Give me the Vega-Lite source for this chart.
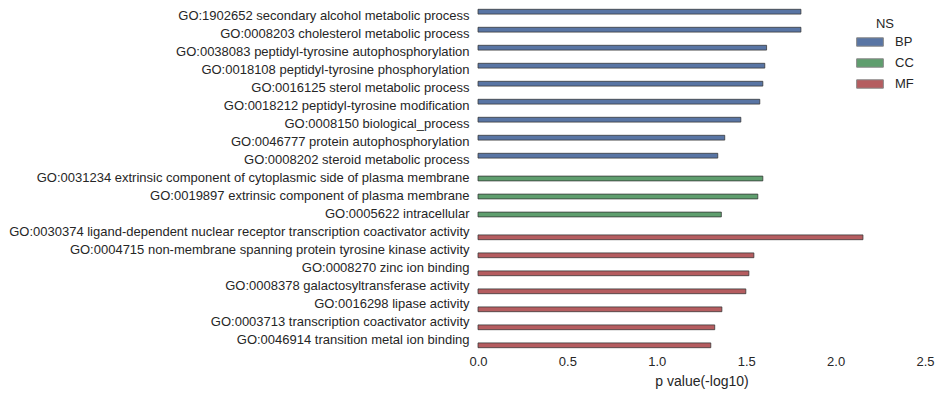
{
  "$schema": "https://vega.github.io/schema/vega-lite/v6.json",
  "autosize": "none",
  "width": 447,
  "height": 342,
  "padding": {"left": 478, "top": 7.5, "right": 15, "bottom": 47.5},
  "background": "white",
  "config": {
    "view": {"stroke": null},
    "font": "Liberation Sans",
    "axis": {"labelFont": "Liberation Sans", "titleFont": "Liberation Sans", "labelColor": "#262626", "titleColor": "#262626"},
    "legend": {"labelFont": "Liberation Sans", "titleFont": "Liberation Sans"}
  },
  "data": {
    "values": [
      {"term": "GO:1902652 secondary alcohol metabolic process", "NS": "BP", "p": 1.806},
      {"term": "GO:0008203 cholesterol metabolic process", "NS": "BP", "p": 1.806},
      {"term": "GO:0038083 peptidyl-tyrosine autophosphorylation", "NS": "BP", "p": 1.614},
      {"term": "GO:0018108 peptidyl-tyrosine phosphorylation", "NS": "BP", "p": 1.604},
      {"term": "GO:0016125 sterol metabolic process", "NS": "BP", "p": 1.593},
      {"term": "GO:0018212 peptidyl-tyrosine modification", "NS": "BP", "p": 1.576},
      {"term": "GO:0008150 biological_process", "NS": "BP", "p": 1.470},
      {"term": "GO:0046777 protein autophosphorylation", "NS": "BP", "p": 1.380},
      {"term": "GO:0008202 steroid metabolic process", "NS": "BP", "p": 1.341},
      {"term": "GO:0031234 extrinsic component of cytoplasmic side of plasma membrane", "NS": "CC", "p": 1.593},
      {"term": "GO:0019897 extrinsic component of plasma membrane", "NS": "CC", "p": 1.565},
      {"term": "GO:0005622 intracellular", "NS": "CC", "p": 1.361},
      {"term": "GO:0030374 ligand-dependent nuclear receptor transcription coactivator activity", "NS": "MF", "p": 2.153},
      {"term": "GO:0004715 non-membrane spanning protein tyrosine kinase activity", "NS": "MF", "p": 1.543},
      {"term": "GO:0008270 zinc ion binding", "NS": "MF", "p": 1.515},
      {"term": "GO:0008378 galactosyltransferase activity", "NS": "MF", "p": 1.498},
      {"term": "GO:0016298 lipase activity", "NS": "MF", "p": 1.364},
      {"term": "GO:0003713 transcription coactivator activity", "NS": "MF", "p": 1.324},
      {"term": "GO:0046914 transition metal ion binding", "NS": "MF", "p": 1.302}
    ]
  },
  "mark": {"type": "bar", "stroke": "#333333", "strokeWidth": 1, "strokeOpacity": 0.75},
  "encoding": {
    "y": {
      "field": "term", "type": "nominal", "sort": null,
      "scale": {"paddingInner": 0.2, "paddingOuter": 0.1},
      "axis": {"title": null, "domain": false, "ticks": false, "labelFontSize": 13, "labelPadding": 9, "labelLimit": 0, "labelOffset": -1}
    },
    "yOffset": {
      "field": "NS", "type": "nominal",
      "scale": {"domain": ["BP", "CC", "MF"], "paddingInner": 0, "paddingOuter": 0}
    },
    "x": {
      "field": "p", "type": "quantitative",
      "scale": {"domain": [0, 2.5], "nice": false},
      "axis": {"title": "p value(-log10)", "values": [0, 0.5, 1, 1.5, 2, 2.5], "format": ".1f", "domain": false, "ticks": false, "grid": false, "labelFontSize": 13, "labelPadding": 6, "titleFontSize": 14, "titleFontWeight": "normal", "titlePadding": 6, "labelFlush": false}
    },
    "color": {
      "field": "NS", "type": "nominal",
      "scale": {"domain": ["BP", "CC", "MF"], "range": ["#5975a4", "#5f9e6e", "#b55d60"]},
      "legend": {
        "orient": "none", "legendX": 378, "legendY": 10,
        "title": "NS", "titleFontSize": 13, "titleFontWeight": "normal", "titleColor": "#262626", "titleAnchor": "middle", "titlePadding": -2.5,
        "labelFontSize": 13, "labelColor": "#262626", "labelOffset": 11,
        "symbolType": "M-1,-0.315L1,-0.315L1,0.315L-1,0.315Z", "symbolSize": 713,
        "symbolStrokeColor": "#888888", "symbolStrokeWidth": 1, "symbolOpacity": 1,
        "rowPadding": -2
      }
    }
  }
}
